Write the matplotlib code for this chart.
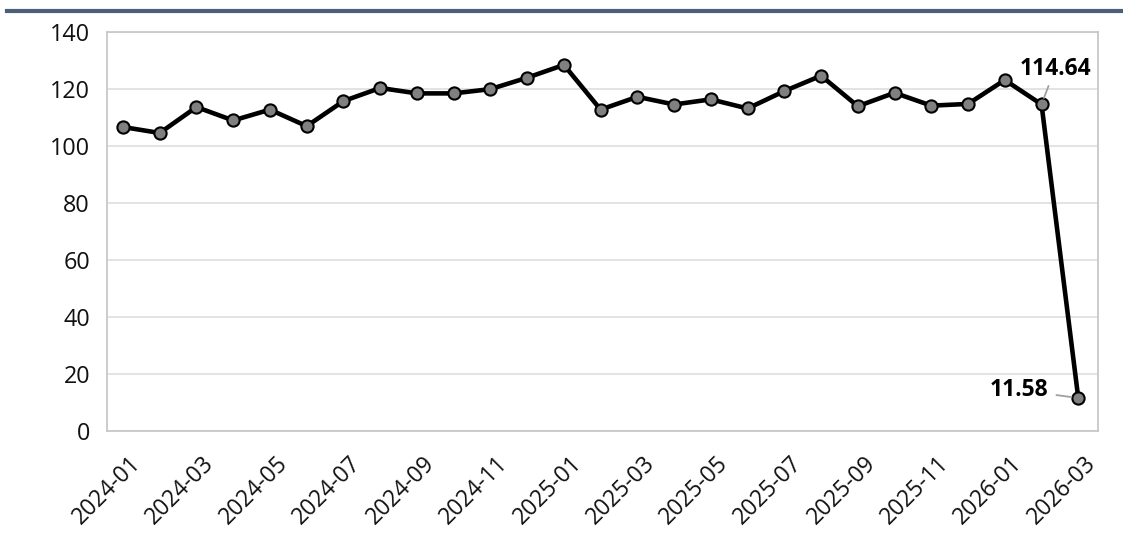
import matplotlib
matplotlib.use("Agg")
import matplotlib.pyplot as plt
from matplotlib.lines import Line2D
from matplotlib.transforms import ScaledTranslation

months = ["2024-01", "2024-02", "2024-03", "2024-04", "2024-05", "2024-06",
          "2024-07", "2024-08", "2024-09", "2024-10", "2024-11", "2024-12",
          "2025-01", "2025-02", "2025-03", "2025-04", "2025-05", "2025-06",
          "2025-07", "2025-08", "2025-09", "2025-10", "2025-11", "2025-12",
          "2026-01", "2026-02", "2026-03"]
values = [106.7, 104.6, 113.7, 109.0, 112.8, 107.0,
          115.8, 120.4, 118.5, 118.5, 120.0, 124.0,
          128.5, 112.8, 117.3, 114.6, 116.4, 113.2,
          119.3, 124.7, 114.0, 118.7, 114.2, 114.8,
          123.2, 114.64, 11.58]

plt.rcParams["font.family"] = ["Open Sans", "DejaVu Sans"]

fig = plt.figure(figsize=(11.23, 5.54), dpi=100)
ax = fig.add_axes([0.095, 0.222, 0.883, 0.72])

# dark band along the top of the figure
fig.add_artist(Line2D([0.006, 1.0], [0.981, 0.981], transform=fig.transFigure,
                      color="#4b5f79", lw=3))

x = list(range(len(months)))
ax.plot(x, values, color="black", lw=3.3, marker="o", markersize=8.8,
        markerfacecolor="#808080", markeredgecolor="black", markeredgewidth=1.5,
        zorder=3)

ax.set_ylim(0, 140)
ax.set_yticks(range(0, 141, 20))
ax.set_xlim(-0.444, len(months) - 1 + 0.545)
ax.set_xticks(x[::2], labels=months[::2], rotation=45, ha="right",
              rotation_mode="anchor")
ax.tick_params(axis="both", length=0, colors="#111111")
ax.tick_params(axis="y", pad=12, labelsize=16.8)
ax.tick_params(axis="x", pad=15, labelsize=16.5)
# nudge rotated month labels a little to the right
shift = ScaledTranslation(4 / 72, 0, fig.dpi_scale_trans)
for lbl in ax.get_xticklabels():
    lbl.set_transform(lbl.get_transform() + shift)
ax.grid(axis="y", color="#dedede", lw=1.2)
ax.set_axisbelow(True)
for s in ax.spines.values():
    s.set_color("#c8c8c8")
    s.set_linewidth(1.3)

# labels on the last two points
ax.annotate(f"{values[-2]:.2f}", xy=(x[-2], values[-2]), xytext=(x[-2] + 0.37, 123.0),
            fontsize=16.5, fontweight="bold", ha="center", va="bottom",
            arrowprops=dict(arrowstyle="-", color="#a0a0a0", lw=1.3,
                            shrinkA=2, shrinkB=5))
ax.annotate(f"{values[-1]:.2f}", xy=(x[-1], values[-1]), xytext=(x[-1] - 0.82, 14.4),
            fontsize=16.5, fontweight="bold", ha="right", va="center",
            arrowprops=dict(arrowstyle="-", color="#a0a0a0", lw=1.3,
                            shrinkA=4, shrinkB=5))

fig.savefig("out.png", dpi=100)
